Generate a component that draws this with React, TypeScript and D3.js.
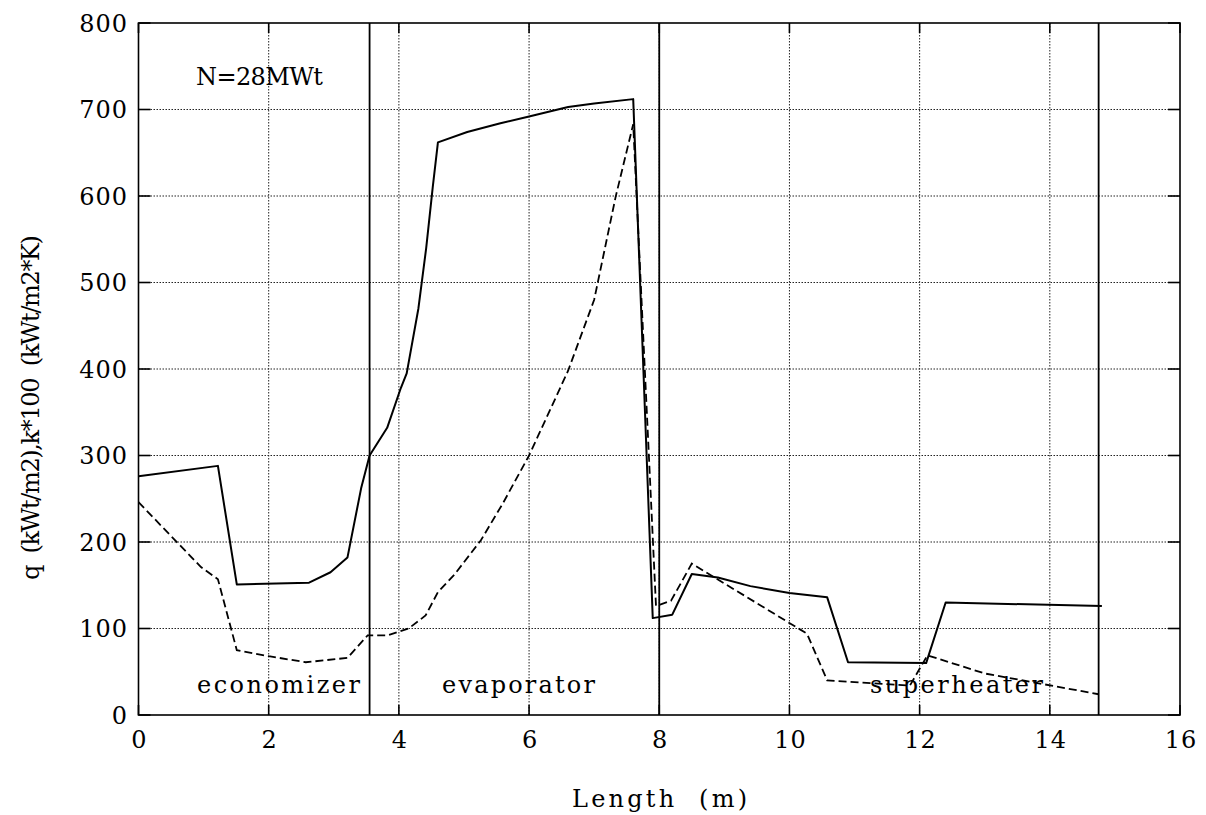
import * as d3 from 'd3'

// heat flux q (solid) and heat transfer coefficient k*100 (dashed) along the tube
const qLength = [0, 1.22, 1.51, 2.62, 2.95, 3.21, 3.42, 3.55, 3.82, 4.03, 4.12, 4.3, 4.42, 4.52, 4.6, 5.05, 5.56, 6.0, 6.6, 7.0, 7.6, 7.9, 8.2, 8.5, 8.9, 9.4, 10.0, 10.58, 10.9, 12.1, 12.4, 14.8]
const qValue = [276, 288, 151, 153, 165, 182, 262, 300, 332, 378, 395, 470, 540, 610, 662, 674, 684, 692, 703, 707, 712, 112, 116, 163, 159, 149, 141, 136, 61, 60, 130, 126]

const kLength = [0, 0.96, 1.22, 1.51, 2.0, 2.57, 3.21, 3.52, 3.82, 4.15, 4.41, 4.6, 4.85, 5.26, 5.6, 6.0, 6.6, 7.0, 7.33, 7.6, 7.95, 8.18, 8.5, 10.27, 10.58, 11.85, 12.12, 13.0, 14.75]
const kValue = [246, 171, 157, 75, 68, 61, 66, 92, 92, 100, 115, 142, 162, 202, 245, 300, 398, 480, 599, 683, 126, 132, 175, 94, 40, 34, 69, 48, 24]

// section boundaries (m)
const boundaries = [3.55, 8.0, 14.75]
const sections = [
  { name: 'economizer', from: 197, to: 360 },
  { name: 'evaporator', from: 442, to: 595 },
  { name: 'superheater', from: 870, to: 1043 },
]

const xTicks = [0, 2, 4, 6, 8, 10, 12, 14, 16]
const yTicks = [0, 100, 200, 300, 400, 500, 600, 700, 800]

const W = 1206
const H = 815
const left = 138.5
const right = 1180
const top = 23
const bottom = 715
const font = '"DejaVu Serif", serif'
const fs = 24

export default function App() {
  const x = d3.scaleLinear().domain([0, 16]).range([left, right])
  const y = d3.scaleLinear().domain([0, 800]).range([bottom, top])

  const line = d3
    .line<[number, number]>()
    .x((d) => x(d[0]))
    .y((d) => y(d[1]))

  const qPts = qLength.map((l, i) => [l, qValue[i]] as [number, number])
  const kPts = kLength.map((l, i) => [l, kValue[i]] as [number, number])

  return (
    <svg
      width={W}
      height={H}
      style={{ position: 'absolute', left: 0, top: 0, background: '#fff' }}
      fontFamily={font}
    >
      {/* grid */}
      {xTicks.slice(1, -1).map((t) => (
        <line key={'gx' + t} x1={x(t)} x2={x(t)} y1={top} y2={bottom} stroke="#222" strokeWidth={1} strokeDasharray="1.5,1.5" />
      ))}
      {yTicks.slice(1, -1).map((t) => (
        <line key={'gy' + t} x1={left} x2={right} y1={y(t)} y2={y(t)} stroke="#222" strokeWidth={1} strokeDasharray="1.5,1.5" />
      ))}

      {/* frame + ticks */}
      <rect x={left} y={top} width={right - left} height={bottom - top} fill="none" stroke="#000" strokeWidth={1.6} />
      {yTicks.map((t) => (
        <g key={'ty' + t}>
          <line x1={left} x2={left + 12} y1={y(t)} y2={y(t)} stroke="#000" strokeWidth={1.6} />
          <line x1={right - 12} x2={right} y1={y(t)} y2={y(t)} stroke="#000" strokeWidth={1.6} />
          <text x={128} y={y(t)} dy="0.36em" textAnchor="end" fontSize={fs} letterSpacing={1}>
            {t}
          </text>
        </g>
      ))}
      {xTicks.map((t) => (
        <g key={'tx' + t}>
          <line x1={x(t)} x2={x(t)} y1={bottom} y2={bottom - 10} stroke="#000" strokeWidth={1.6} />
          <line x1={x(t)} x2={x(t)} y1={top} y2={top + 10} stroke="#000" strokeWidth={1.6} />
          <text x={x(t) + 1} y={748} textAnchor="middle" fontSize={fs} letterSpacing={1}>
            {t}
          </text>
        </g>
      ))}

      {/* section boundaries */}
      {boundaries.map((b) => (
        <line key={'b' + b} x1={x(b)} x2={x(b)} y1={top} y2={bottom} stroke="#000" strokeWidth={1.8} />
      ))}

      {/* series */}
      <path d={line(qPts) ?? ''} fill="none" stroke="#000" strokeWidth={2} strokeLinejoin="round" />
      <path d={line(kPts) ?? ''} fill="none" stroke="#000" strokeWidth={1.8} strokeDasharray="8,4" />

      {/* annotations */}
      <text x={196} y={85} fontSize={fs} textLength={127} lengthAdjust="spacing">
        N=28MWt
      </text>
      {sections.map((s) => (
        <text key={s.name} x={s.from} y={693} fontSize={fs} textLength={s.to - s.from} lengthAdjust="spacing">
          {s.name}
        </text>
      ))}

      {/* axis titles */}
      <text x={572} y={807} fontSize={fs} textLength={175} lengthAdjust="spacing" style={{ whiteSpace: 'pre' }}>
        {'Length  (m)'}
      </text>
      <text
        transform={`translate(39, 580) rotate(-90)`}
        fontSize={fs}
        textLength={345}
        lengthAdjust="spacing"
        style={{ whiteSpace: 'pre' }}
      >
        {'q  (kWt/m2),k*100  (kWt/m2*K)'}
      </text>
    </svg>
  )
}
